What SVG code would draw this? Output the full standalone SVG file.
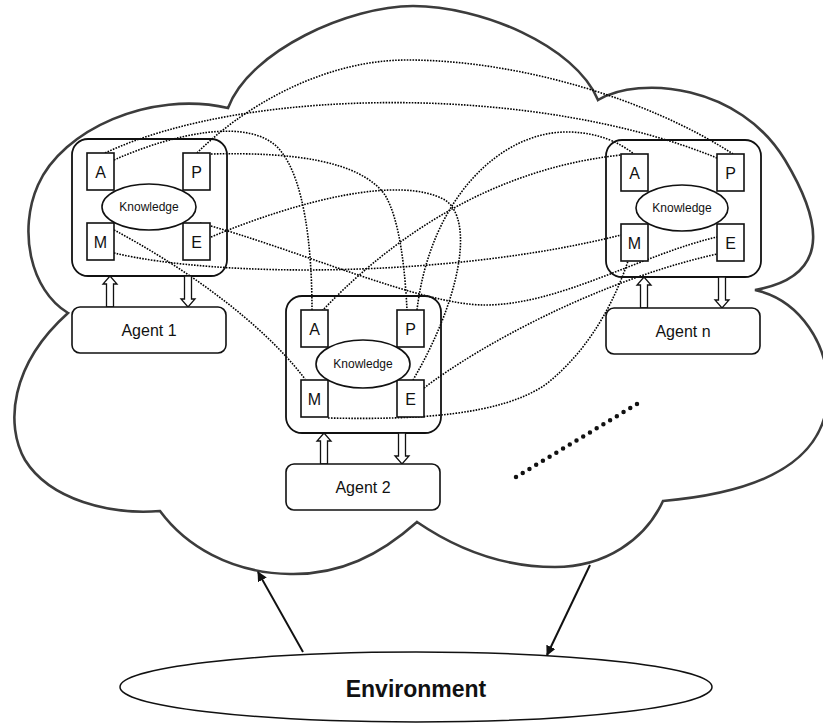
<svg xmlns="http://www.w3.org/2000/svg" xmlns:xlink="http://www.w3.org/1999/xlink" width="823" height="727" viewBox="0 0 823 727">
  <style>
    .cloud { fill: #ffffff; stroke: #3c3c3c; stroke-width: 2.6; stroke-linejoin: miter; }
    .frame { fill: none; stroke: #111; stroke-width: 1.8; }
    .box { fill: #ffffff; stroke: #111; stroke-width: 1.6; }
    .know { fill: #ffffff; stroke: #111; stroke-width: 1.6; }
    .agent { fill: #ffffff; stroke: #111; stroke-width: 1.6; }
    .blk { fill: #ffffff; stroke: #111; stroke-width: 1.3; stroke-linejoin: miter; }
    .dot { fill: none; stroke: #000; stroke-width: 1.6; stroke-dasharray: 1.6 1.3; }
    .letter { font-family: "Liberation Sans", Arial, sans-serif; font-size: 16px; fill: #111; text-anchor: middle; }
    .ktext { font-family: "Liberation Sans", Arial, sans-serif; font-size: 12px; fill: #111; text-anchor: middle; }
    .atext { font-family: "Liberation Sans", Arial, sans-serif; font-size: 16px; fill: #111; text-anchor: middle; }
    .env { fill: #ffffff; stroke: #111; stroke-width: 1.5; }
    .envtext { font-family: "Liberation Sans", Arial, sans-serif; font-size: 23px; font-weight: bold; fill: #111; text-anchor: middle; }
    .envarrow { fill: none; stroke: #111; stroke-width: 2; }
  </style>
  <defs>
    <marker id="head" viewBox="0 0 10 10" refX="9" refY="5" markerWidth="5" markerHeight="5" orient="auto" markerUnits="strokeWidth">
      <path d="M0,0 L10,5 L0,10 Z" fill="#111"/>
    </marker>
    <!-- hollow block arrows, origin at the frame bottom edge -->
    <path id="upArrow" class="blk" d="M-3.5,31 V8 H-7 L0,0 L7,8 H3.5 V31 Z"/>
    <path id="downArrow" class="blk" d="M-3.5,0 V23 H-7 L0,31 L7,23 H3.5 V0 Z"/>
  </defs>

  <rect width="823" height="727" fill="#ffffff"/>

  <!-- cloud enclosing the agent society -->
  <path id="cloud" class="cloud" d="M228,108
    C 250,50 350,6 413,6
    C 480,6 575,45 598,100
    C 640,75 740,85 785,160
    C 815,210 840,275 755,290
    C 800,300 830,345 828,395
    C 826,445 790,490 663,501
    C 645,540 605,567 555,567
    C 500,567 455,548 417,522
    C 380,555 340,575 290,574
    C 230,573 185,545 160,511
    C 110,515 50,500 25,460
    C 5,425 10,365 68,313
    C 30,290 18,230 38,185
    C 62,130 150,90 228,108 Z"/>

  <!-- dotted links between the modules of different agents -->
  <g id="connectors">
    <path class="dot" d="M197,153 C 240,110 320,60 407,60 C 520,60 650,100 733,154"/>
    <path class="dot" d="M105,153 C 250,85 540,85 717,158"/>
    <path class="dot" d="M114,160 C 170,135 250,115 280,150 C 305,180 312,250 312,310"/>
    <path class="dot" d="M211,154 C 290,152 360,160 385,195 C 400,220 405,270 407,310"/>
    <path class="dot" d="M211,237 C 300,200 400,175 445,200 C 475,220 460,300 413,380"/>
    <path class="dot" d="M200,223 C 300,250 420,305 485,305 C 560,305 640,255 717,237"/>
    <path class="dot" d="M114,253 C 220,278 450,278 621,235"/>
    <path class="dot" d="M328,418 C 420,420 500,415 545,385 C 590,350 615,300 628,261"/>
    <path class="dot" d="M322,311 C 380,250 480,170 621,155"/>
    <path class="dot" d="M417,310 C 430,200 500,130 570,132 C 600,133 620,143 634,154"/>
    <path class="dot" d="M114,230 C 180,265 260,320 305,379"/>
    <path class="dot" d="M424,388 C 480,345 600,280 717,254"/>
  </g>

  <!-- Agent 1 -->
  <g id="agent1">
    <rect class="frame" x="72" y="139" width="155" height="137" rx="16"/>
    <rect class="box" x="87" y="153" width="27" height="37"/>
    <text class="letter" x="100.5" y="177.5">A</text>
    <rect class="box" x="183" y="153" width="27" height="37"/>
    <text class="letter" x="196.5" y="177.5">P</text>
    <rect class="box" x="87" y="223" width="27" height="37"/>
    <text class="letter" x="100.5" y="247.5">M</text>
    <rect class="box" x="183" y="223" width="27" height="37"/>
    <text class="letter" x="196.5" y="247.5">E</text>
    <ellipse class="know" cx="149" cy="207" rx="47" ry="23"/>
    <text class="ktext" x="149" y="211">Knowledge</text>
    <use xlink:href="#upArrow" x="110" y="276"/>
    <use xlink:href="#downArrow" x="188" y="276"/>
    <rect class="agent" x="72" y="307" width="154" height="46" rx="8"/>
    <text class="atext" x="149" y="335.5">Agent 1</text>
  </g>

  <!-- Agent 2 -->
  <g id="agent2">
    <rect class="frame" x="286" y="296" width="155" height="137" rx="16"/>
    <rect class="box" x="301" y="310" width="27" height="37"/>
    <text class="letter" x="314.5" y="334.5">A</text>
    <rect class="box" x="397" y="310" width="27" height="37"/>
    <text class="letter" x="410.5" y="334.5">P</text>
    <rect class="box" x="301" y="380" width="27" height="37"/>
    <text class="letter" x="314.5" y="404.5">M</text>
    <rect class="box" x="397" y="380" width="27" height="37"/>
    <text class="letter" x="410.5" y="404.5">E</text>
    <ellipse class="know" cx="363" cy="364" rx="47" ry="24"/>
    <text class="ktext" x="363" y="368">Knowledge</text>
    <use xlink:href="#upArrow" x="324" y="433"/>
    <use xlink:href="#downArrow" x="402" y="433"/>
    <rect class="agent" x="286" y="464" width="154" height="46" rx="8"/>
    <text class="atext" x="363" y="492.5">Agent 2</text>
  </g>

  <!-- Agent n -->
  <g id="agentN">
    <rect class="frame" x="606" y="140" width="155" height="137" rx="16"/>
    <rect class="box" x="621" y="154" width="27" height="37"/>
    <text class="letter" x="634.5" y="178.5">A</text>
    <rect class="box" x="717" y="154" width="27" height="37"/>
    <text class="letter" x="730.5" y="178.5">P</text>
    <rect class="box" x="621" y="224" width="27" height="37"/>
    <text class="letter" x="634.5" y="248.5">M</text>
    <rect class="box" x="717" y="224" width="27" height="37"/>
    <text class="letter" x="730.5" y="248.5">E</text>
    <ellipse class="know" cx="682" cy="208" rx="46" ry="23"/>
    <text class="ktext" x="682" y="212">Knowledge</text>
    <use xlink:href="#upArrow" x="644" y="277"/>
    <use xlink:href="#downArrow" x="722" y="277"/>
    <rect class="agent" x="606" y="308" width="154" height="46" rx="8"/>
    <text class="atext" x="683" y="336.5">Agent n</text>
  </g>

  <!-- more agents -->
  <line id="ellipsis" x1="516" y1="477" x2="637" y2="404" stroke="#111" stroke-width="4.5" stroke-linecap="round" stroke-dasharray="0 7.85"/>

  <!-- environment and its exchange with the cloud -->
  <g id="environment">
    <ellipse class="env" cx="416" cy="687" rx="296" ry="35"/>
    <text class="envtext" x="416" y="697">Environment</text>
  </g>
  <g id="env-links">
    <line class="envarrow" x1="303" y1="652" x2="258" y2="572" marker-end="url(#head)"/>
    <line class="envarrow" x1="590" y1="565" x2="547" y2="655" marker-end="url(#head)"/>
  </g>
</svg>
